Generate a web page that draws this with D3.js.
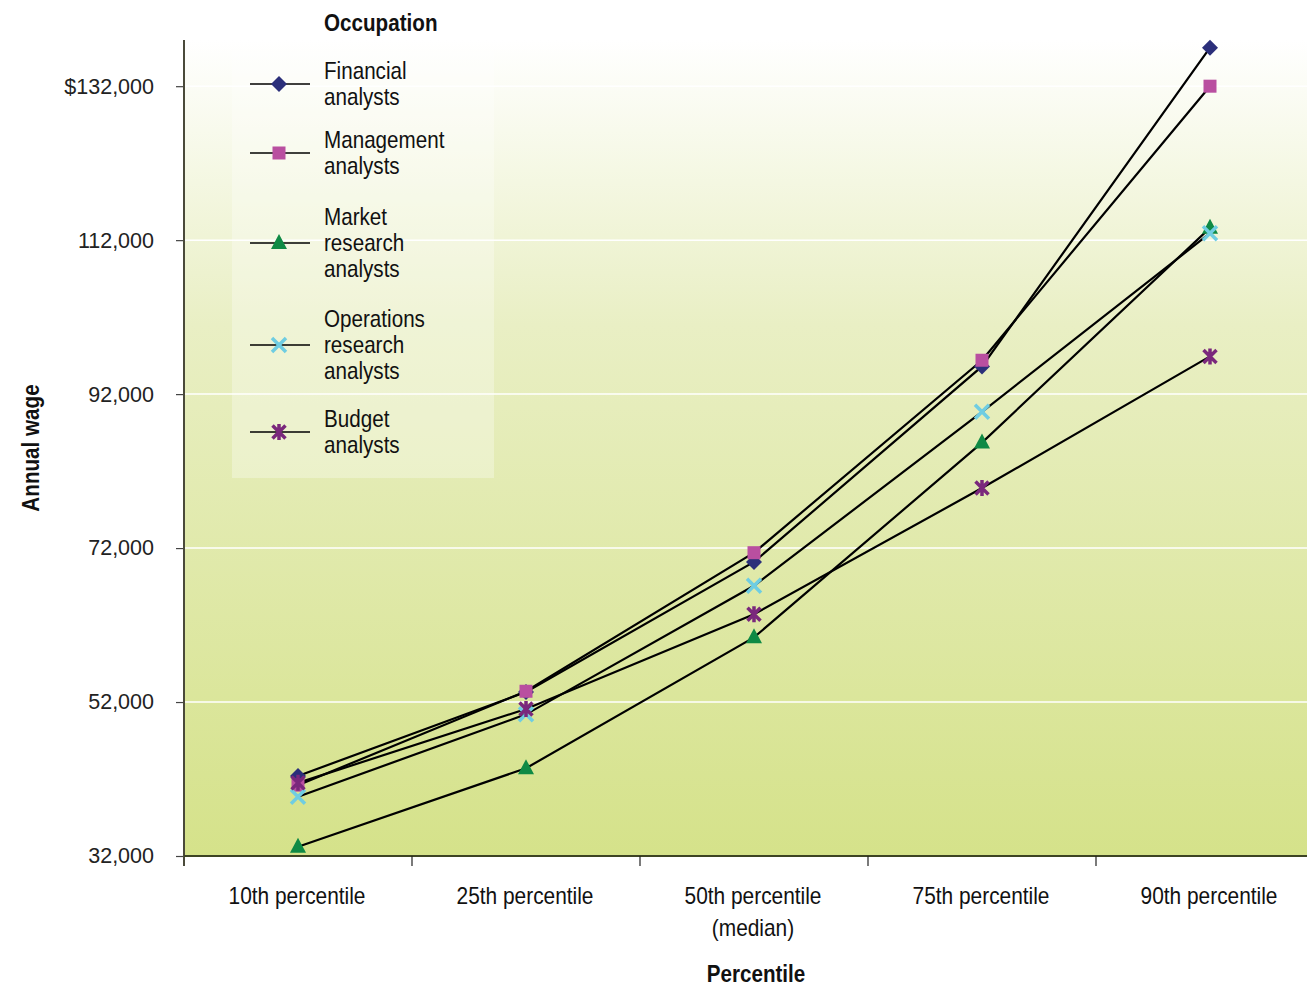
<!DOCTYPE html>
<html><head><meta charset="utf-8">
<script src="https://cdn.jsdelivr.net/npm/d3@7"></script>
<style>
body{margin:0;background:#fff;}
svg{display:block;}
</style></head>
<body>
<svg id="chart" width="1307" height="987"></svg>
<script>
const categories = ["10th percentile","25th percentile","50th percentile (median)","75th percentile","90th percentile"];
const categoryLines = [["10th percentile"],["25th percentile"],["50th percentile","(median)"],["75th percentile"],["90th percentile"]];
const seriesNames = ["Financial analysts","Management analysts","Market research analysts","Operations research analysts","Budget analysts"];
const legendLines = [["Financial","analysts"],["Management","analysts"],["Market","research","analysts"],["Operations","research","analysts"],["Budget","analysts"]];
const financial  = [42400, 53300, 70200, 95600, 137000];
const management = [41200, 53400, 71400, 96400, 132000];
const market     = [33200, 43400, 60400, 85700, 113600];
const operations = [39700, 50400, 67100, 89700, 112900];
const budget     = [41500, 51100, 63400, 79800, 96900];
const yTicks = [32000, 52000, 72000, 92000, 112000, 132000];
const seriesValues = [financial, management, market, operations, budget];
const markerTypes = ["diamond","square","triangle","x","asterisk"];
const markerColors = ["#2b2f7a","#b94fa0","#0f8a45","#6fcde2","#7a287c"];

const svg = d3.select("#chart");
const L = 184, R = 1324, T = 40, B = 856, RV = 1307;
const x = d3.scaleBand().domain(categories).range([L, R]);
const y = d3.scaleLinear().domain([32000, 138000]).range([B, T]);
const sans = "'Liberation Sans',Arial,Helvetica,sans-serif";

// condensed text helper: Liberation Sans squeezed horizontally (Arial Narrow look)
function narrowText(parent, tx, ty, lines, opts){
  const o = Object.assign({size:24, sx:0.86, lh:27, anchor:"start", weight:"normal", rotate:0}, opts||{});
  const g = parent.append("g").attr("transform",`translate(${tx},${ty}) rotate(${o.rotate}) scale(${o.sx},1)`);
  const t = g.append("text").attr("font-family",sans).attr("font-size",o.size).attr("font-weight",o.weight)
    .attr("fill","#111").attr("text-anchor",o.anchor);
  lines.forEach((ln,j)=>t.append("tspan").attr("x",0).attr("y",j*o.lh).text(ln));
  return g;
}

const defs = svg.append("defs");
const grad = defs.append("linearGradient").attr("id","bg").attr("x1",0).attr("y1",0).attr("x2",0).attr("y2",1);
grad.append("stop").attr("offset","0%").attr("stop-color","#ffffff");
grad.append("stop").attr("offset","35%").attr("stop-color","#e9efc4");
grad.append("stop").attr("offset","100%").attr("stop-color","#d5e28a");

svg.append("rect").attr("x",L).attr("y",T).attr("width",RV-L).attr("height",B-T).attr("fill","url(#bg)");

// gridlines
svg.append("g").selectAll("line").data(yTicks.slice(1)).join("line")
  .attr("x1",L).attr("x2",RV).attr("y1",d=>y(d)).attr("y2",d=>y(d))
  .attr("stroke","#ffffff").attr("stroke-width",1.5);

// legend box
svg.append("rect").attr("x",232).attr("y",T).attr("width",262).attr("height",438)
  .attr("fill","#ffffff").attr("fill-opacity",0.3);

// axes
const yAxis = d3.axisLeft(y).tickValues(yTicks).tickSize(8).tickPadding(22)
  .tickFormat(d => (d===132000?"$":"") + d3.format(",")(d));
const gy = svg.append("g").attr("transform",`translate(${L},0)`).call(yAxis);
gy.select(".domain").remove();
gy.selectAll(".tick line").attr("stroke","#444").attr("stroke-width",1.2);
gy.selectAll(".tick text").attr("font-family",sans).attr("font-size",21.5).attr("fill","#222");
svg.append("line").attr("x1",L).attr("x2",L).attr("y1",T).attr("y2",B+10).attr("stroke","#4a4a3a").attr("stroke-width",2);

const xAxis = d3.axisBottom(x).tickSize(0).tickFormat("");
const gx = svg.append("g").attr("transform",`translate(0,${B})`).call(xAxis);
gx.select(".domain").remove();
svg.append("line").attr("x1",L).attr("x2",RV).attr("y1",B).attr("y2",B).attr("stroke","#3d4423").attr("stroke-width",2);
svg.append("g").selectAll("line").data(categories.slice(1)).join("line")
  .attr("x1",d=>x(d)).attr("x2",d=>x(d)).attr("y1",B).attr("y2",B+10)
  .attr("stroke","#222").attr("stroke-width",1.2);

// x labels
categories.forEach((c,i)=>{
  narrowText(svg, x(c)+x.bandwidth()/2 - 1, 904, categoryLines[i], {anchor:"middle", lh:32, sx:0.87});
});

// axis titles
narrowText(svg, 756, 982, ["Percentile"], {anchor:"middle", weight:"bold", sx:0.86});
narrowText(svg, 39, 448, ["Annual wage"], {anchor:"middle", weight:"bold", sx:0.86, rotate:-90});

// lines
const line = d3.line().x((d,i)=>x(categories[i])+x.bandwidth()/2).y(d=>y(d));
svg.append("g").selectAll("path").data(seriesValues).join("path")
  .attr("d",d=>line(d)).attr("fill","none").attr("stroke","#000").attr("stroke-width",2.2);

function drawMarker(g, type, color, cx, cy){
  if(type==="diamond"){
    g.append("path").attr("d",`M${cx},${cy-8}L${cx+8},${cy}L${cx},${cy+8}L${cx-8},${cy}Z`).attr("fill",color);
  } else if(type==="square"){
    g.append("rect").attr("x",cx-6.5).attr("y",cy-6.5).attr("width",13).attr("height",13).attr("fill",color);
  } else if(type==="triangle"){
    g.append("path").attr("d",`M${cx},${cy-9}L${cx+8},${cy+6}L${cx-8},${cy+6}Z`).attr("fill",color);
  } else if(type==="x"){
    g.append("path").attr("d",`M${cx-7},${cy-7}L${cx+7},${cy+7}M${cx-7},${cy+7}L${cx+7},${cy-7}`)
      .attr("stroke",color).attr("stroke-width",3.5).attr("fill","none");
  } else {
    g.append("path").attr("d",`M${cx-6.5},${cy-6.5}L${cx+6.5},${cy+6.5}M${cx-6.5},${cy+6.5}L${cx+6.5},${cy-6.5}M${cx},${cy-8}L${cx},${cy+8}`)
      .attr("stroke",color).attr("stroke-width",3.5).attr("fill","none");
  }
}

const mg = svg.append("g");
seriesValues.forEach((vals,si)=>{
  vals.forEach((v,i)=>{
    drawMarker(mg, markerTypes[si], markerColors[si], x(categories[i])+x.bandwidth()/2, y(v));
  });
});

// legend
narrowText(svg, 324, 31, ["Occupation"], {weight:"bold", sx:0.86});
const legendCenters = [84, 153, 243, 345, 432];
seriesNames.forEach((s,si)=>{
  const cy = legendCenters[si];
  svg.append("line").attr("x1",250).attr("x2",310).attr("y1",cy).attr("y2",cy).attr("stroke","#000").attr("stroke-width",1.6);
  drawMarker(svg, markerTypes[si], markerColors[si], 279, cy);
  const n = legendLines[si].length;
  narrowText(svg, 324, cy + 8 - (n-1)/2*26.5, legendLines[si], {lh:26.5, sx:0.86});
});
</script>
</body></html>
